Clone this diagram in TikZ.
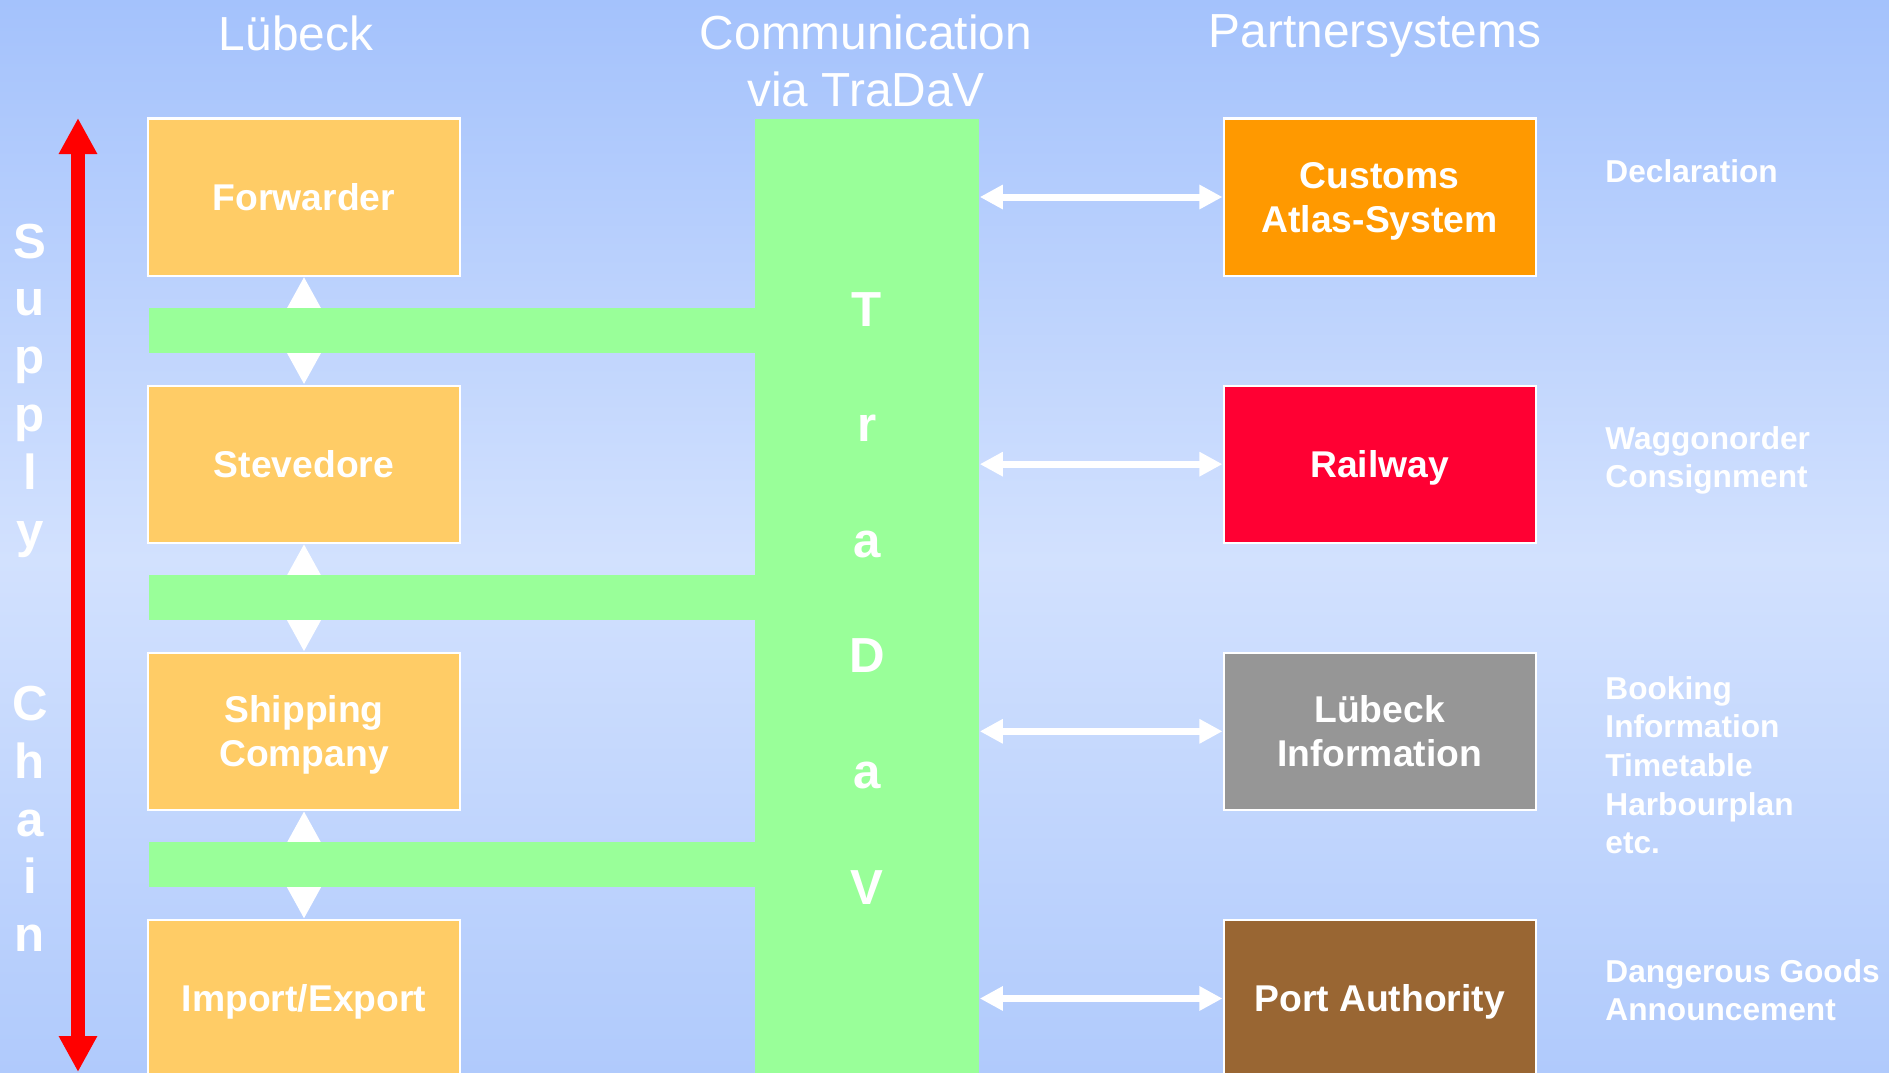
\documentclass[tikz,border=0pt]{standalone}
\usepackage{fontspec}
\setmainfont{Liberation Sans}
\usepackage{xcolor}
\usetikzlibrary{arrows.meta, positioning}
\definecolor{bgtop}{HTML}{A4C2FC}
\definecolor{bgmid}{HTML}{D2E1FE}
\definecolor{bgbot}{HTML}{B0CAFC}
\definecolor{luebeckbox}{HTML}{FFCC66}
\definecolor{tradavgreen}{HTML}{99FF99}
\definecolor{customs}{HTML}{FF9900}
\definecolor{railway}{HTML}{FF0033}
\definecolor{info}{HTML}{969696}
\definecolor{port}{HTML}{996633}

\begin{document}
\begin{tikzpicture}[x=0.01cm, y=-0.01cm, node distance=2.67cm, on grid,
  box/.style={rectangle, draw=white, line width=0.6pt, minimum width=3.12cm, minimum height=1.57cm, inner sep=2pt, align=center, text depth=0pt, text=white, font=\fontsize{10.6}{12.5}\selectfont\bfseries},
  head/.style={text=white, align=center, text depth=0pt, font=\fontsize{13.6}{16.2}\selectfont},
  note/.style={anchor=west, text=white, align=left, text depth=0pt, font=\fontsize{9}{11}\selectfont\bfseries},
  letter/.style={anchor=base, text=white, font=\fontsize{14}{16}\selectfont\bfseries},
  bar/.style={fill=tradavgreen, inner sep=0pt, anchor=west, minimum width=6.07cm, minimum height=0.45cm},
  supplyarrow/.style={red, line width=1.3mm, {Triangle[length=3.6mm, width=3.6mm]}-{Triangle[length=3.6mm, width=3.6mm]}},
  gap/.style={white, line width=1mm, {Triangle[length=3.2mm, width=3.2mm]}-{Triangle[length=3.2mm, width=3.2mm]}},
  link/.style={white, line width=0.7mm, {Triangle[length=2.3mm, width=2.3mm]}-{Triangle[length=2.3mm, width=2.3mm]}}]

            \useasboundingbox (0,0) rectangle (1889,1072);
            \clip (0,0) rectangle (1889,1072);
            \shade[top color=bgtop, bottom color=bgmid] (0,0) rectangle (1889,560);
            \shade[top color=bgmid, bottom color=bgbot] (0,559) rectangle (1889,1072);

            \node[head] (hluebeck) at (296,33) {Lübeck};
            \node[head] (hcomm) at (866,61) {Communication\\via TraDaV};
            \node[head] (hpartner) at (1375,31) {Partnersystems};

            \coordinate (chaintop) at (78,118);
            \coordinate (chainbot) at (78,1072);
            \draw[supplyarrow] (chaintop) -- (chainbot);
            \foreach \ch/\k in {S/0,u/1,p/2,p/3,l/4,y/5,C/8,h/9,a/10,i/11,n/12}
                \node[letter] (sc\k) at (30,{258+57.8*\k}) {\ch};

            \node[box, fill=luebeckbox] (fwd) at (304,197) {Forwarder};
            \node[box, fill=luebeckbox, below=of fwd] (stev) {Stevedore};
            \node[box, fill=luebeckbox, below=of stev] (ship) {Shipping\\Company};
            \node[box, fill=luebeckbox, below=of ship] (impex) {Import/Export};

            \path[gap]
            (fwd) edge (stev)
            (stev) edge (ship)
            (ship) edge (impex)
            ;

            \node[bar] (bar1) at (148,330.5) {};
            \node[bar] (bar2) at (148,597.5) {};
            \node[bar] (bar3) at (148,864) {};
            \node[fill=tradavgreen, inner sep=0pt, anchor=north, minimum width=2.24cm, minimum height=9.6cm] (tradav) at (867,118) {};
            \foreach \ch [count=\i from 0] in {T,r,a,D,a,V}
                \node[letter] (td\i) at (867,{326+115.6*\i}) {\ch};

            \node[box, fill=customs, right=10.75cm of fwd] (cust) {Customs\\Atlas-System};
            \node[box, fill=railway, below=of cust] (rail) {Railway};
            \node[box, fill=info, below=of rail] (linfo) {Lübeck\\Information};
            \node[box, fill=port, below=of linfo] (porta) {Port Authority};

            \path[link]
            (tradav.east |- cust) edge (cust)
            (tradav.east |- rail) edge (rail)
            (tradav.east |- linfo) edge (linfo)
            (tradav.east |- porta) edge (porta)
            ;

            \node[note] (ndecl) at (1593,171) {Declaration};
            \node[note] (nwagg) at (1593,457) {Waggonorder\\Consignment};
            \node[note] (nbook) at (1593,765) {Booking\\Information\\Timetable\\Harbourplan\\etc.};
            \node[note] (ndang) at (1593,990) {Dangerous Goods\\Announcement};

        \end{tikzpicture}
\end{document}
